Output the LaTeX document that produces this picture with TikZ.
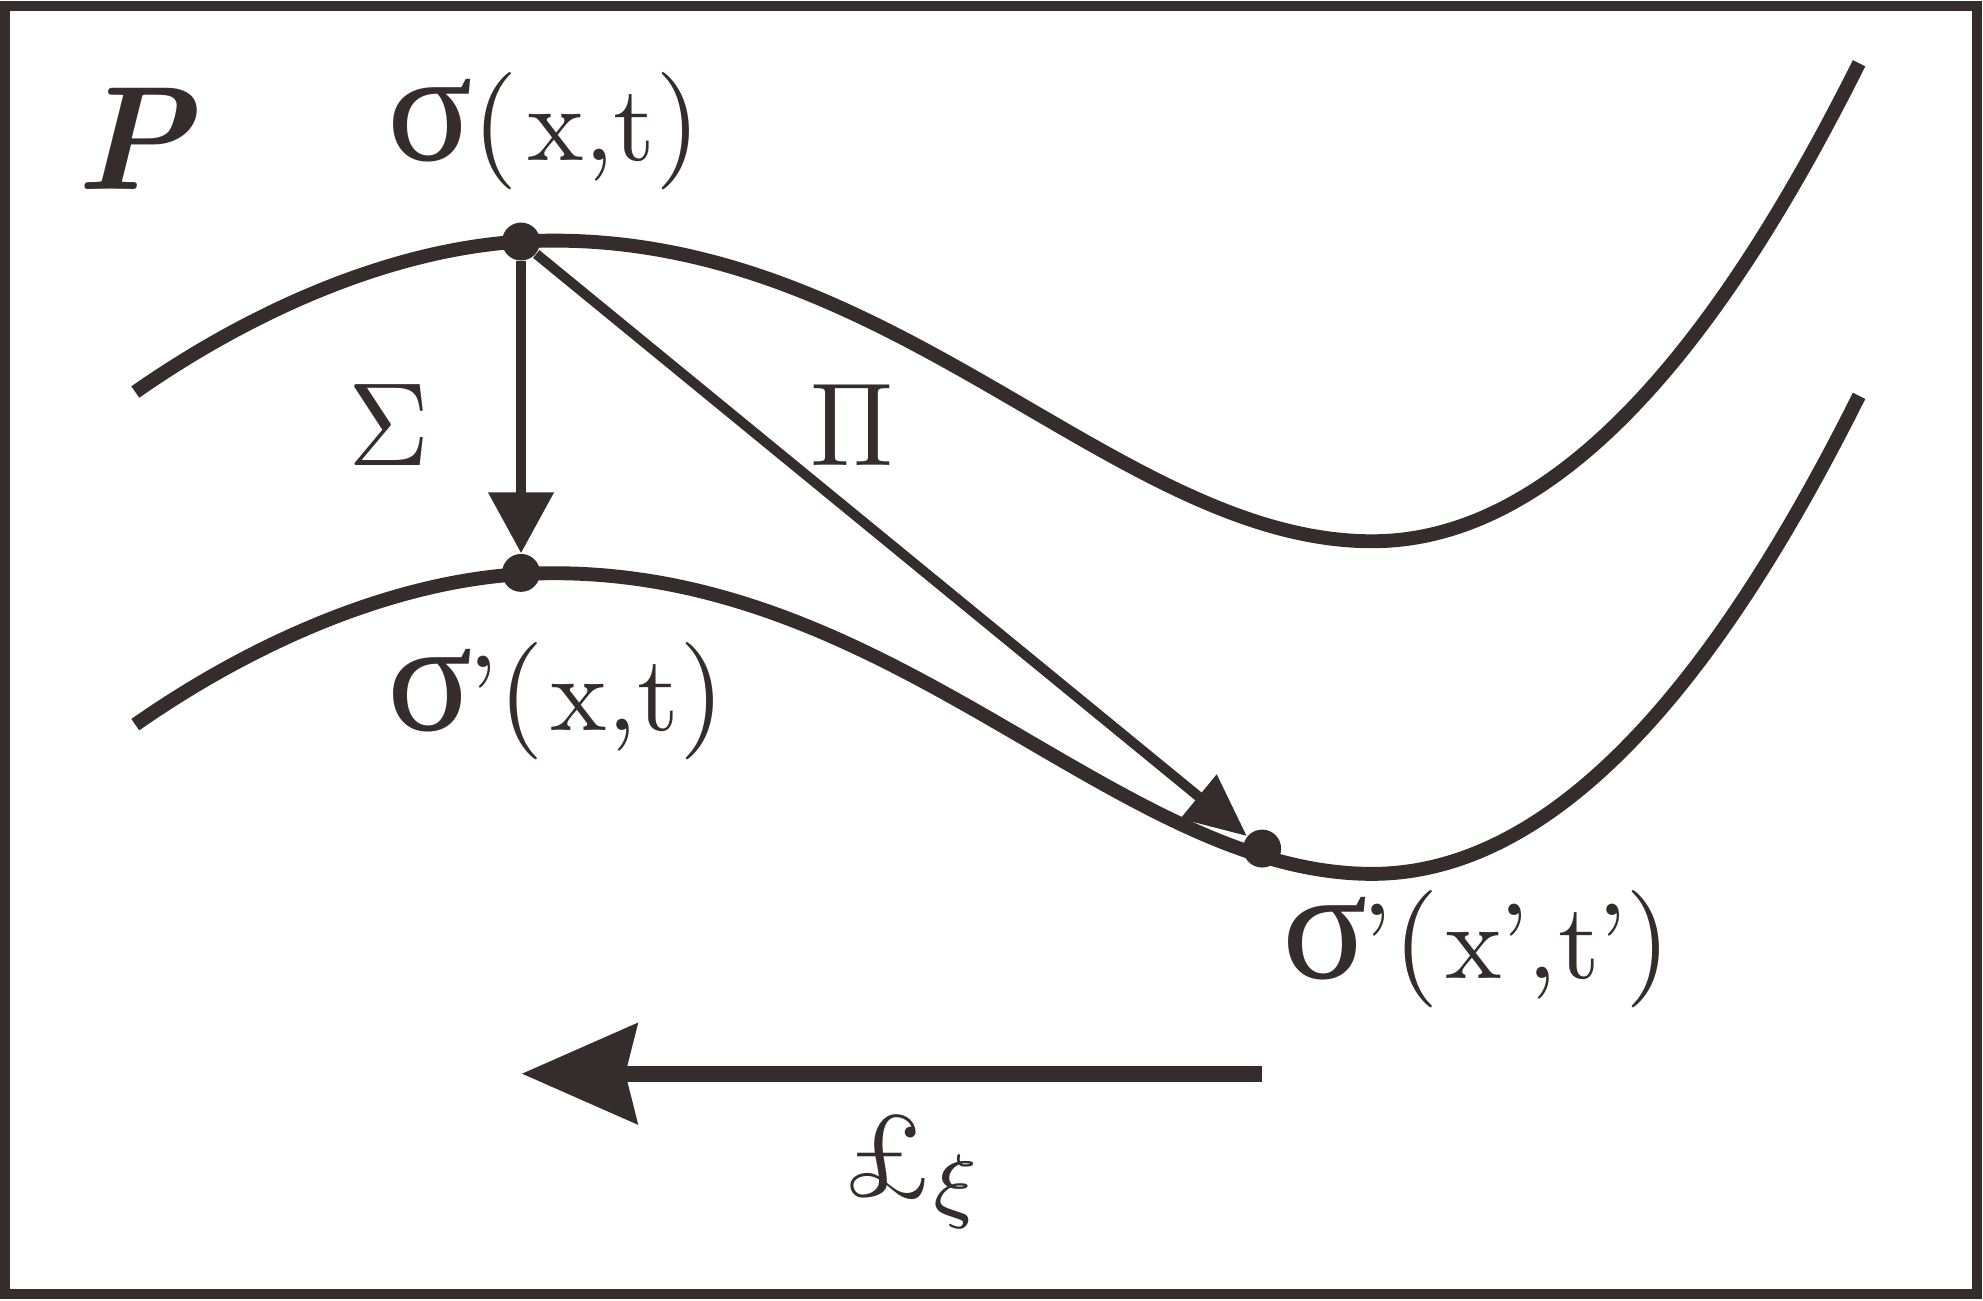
\documentclass[tikz,border=0pt]{standalone}
\usepackage{fontspec}
\newfontfamily\sigfont{Liberation Serif}
\usetikzlibrary{arrows.meta}
\definecolor{ink}{RGB}{52,45,43}
\newcommand{\sg}{{\sigfont\fontsize{14.8}{14.8}\selectfont σ}}
\newcommand{\lp}{{\fontsize{10.8}{10.8}\selectfont$($}}
\newcommand{\rp}{{\fontsize{10.8}{10.8}\selectfont$)$}}
\begin{document}
\begin{tikzpicture}[x=0.012647cm, y=-0.012647cm, color=ink,
  curve/.style={line width=3.95pt},
  dot/.style={circle, fill=ink, draw=none, inner sep=0pt, minimum size=10.8pt},
  lab/.style={inner sep=0pt, scale=3.05},
  thinarrow/.style={line width=2.85pt}]
\useasboundingbox (0,0) rectangle (1568,1028);
\draw[line width=2.8pt] (4,4.5) rectangle (1563.5,1023.5);
% curves
\draw[curve] (107,310) .. controls (200,245) and (310,197) .. (412,191)
  .. controls (700,175) and (880,428) .. (1085,428)
  .. controls (1250,428) and (1380,230) .. (1470,50);
\draw[curve] (107,573) .. controls (200,508) and (310,460) .. (412,454)
  .. controls (700,438) and (880,691) .. (1085,691)
  .. controls (1250,691) and (1380,493) .. (1470,313);
% dots
\node[dot] (d1) at (412,191) {};
\node[dot] (d2) at (412,453) {};
\node[dot] (d3) at (998,671) {};
% arrows
\draw[thinarrow, -{Triangle[length=17.3pt,width=18pt]}] (d1) -- (d2);
\draw[thinarrow, -{Triangle[length=17.8pt,width=15.5pt]}] (d1) -- (d3);
\coordinate (l1) at (998,849);
\coordinate (l2) at (412.5,849);
\draw[line width=4.57pt, -{Stealth[length=32.7pt,width=28.1pt,inset=3.2pt]}] (l1) -- (l2);
% labels
\node[inner sep=0pt, scale=4.2] (P) at (108,110) {\textbf{\textit{P}}};
\node[lab, anchor=base west] (s1) at (305,127)
  {\sg\hspace{-0.01em}\lp\hspace{0.09em}x,t\hspace{0.0em}\rp};
\node[lab, anchor=base west] (s2) at (305,578)
  {\sg\hspace{-0.05em}’\hspace{0.01em}\lp\hspace{0.06em}x,t\hspace{0.0em}\rp};
\node[lab, anchor=base west] (s3) at (1012,774)
  {\sg\hspace{-0.047em}’\hspace{0.01em}\lp\hspace{0.06em}x\hspace{-0.024em}’\hspace{-0.019em},\hspace{0.01em}t\hspace{-0.018em}’\hspace{-0.02em}\rp};
\node[inner sep=0pt, xscale=3.2, yscale=3.37] (Sig) at (308,336) {$\Sigma$};
\node[inner sep=0pt, xscale=3.15, yscale=3.37] (Pi) at (674,336) {$\Pi$};
\node[inner sep=0pt, scale=3.37, anchor=base west] (lie) at (665,945) {£$_\xi$};
\end{tikzpicture}
\end{document}
